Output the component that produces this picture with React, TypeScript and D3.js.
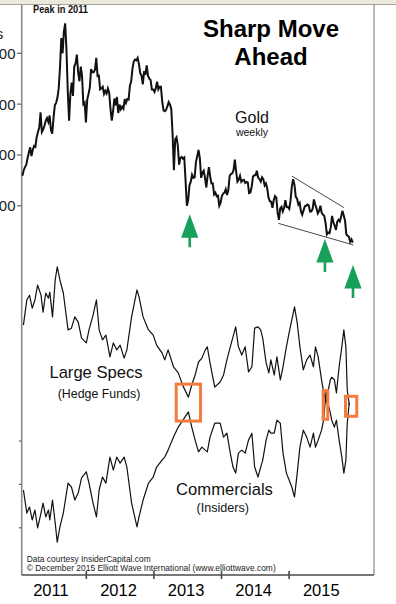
import React from "react";
import * as d3 from "d3";

// Gold, weekly closes (USD/oz), first week ending 2011-01-21
const gold2011 = [1318, 1340, 1352, 1362, 1388, 1410, 1430, 1396, 1420, 1436, 1432, 1470, 1490, 1508, 1568, 1490, 1500, 1515, 1535, 1545, 1530, 1555, 1498, 1484, 1545, 1595, 1605, 1625, 1662, 1745, 1860, 1800, 1885, 1918, 1812, 1650, 1535, 1640, 1685, 1632, 1748, 1760, 1795, 1725, 1690, 1748, 1712, 1600, 1606, 1528];
const gold2012 = [1618, 1640, 1665, 1738, 1725, 1725, 1735, 1782, 1710, 1712, 1658, 1662, 1668, 1640, 1652, 1642, 1662, 1645, 1580, 1535, 1572, 1622, 1595, 1628, 1565, 1598, 1580, 1590, 1582, 1620, 1605, 1620, 1618, 1672, 1690, 1740, 1768, 1775, 1772, 1782, 1758, 1722, 1712, 1678, 1730, 1715, 1752, 1712, 1700, 1695, 1658, 1658];
const gold2013 = [1648, 1662, 1688, 1658, 1668, 1668, 1610, 1575, 1572, 1578, 1592, 1608, 1598, 1580, 1480, 1340, 1462, 1470, 1438, 1362, 1388, 1392, 1385, 1390, 1298, 1200, 1222, 1280, 1295, 1322, 1310, 1312, 1372, 1395, 1420, 1388, 1310, 1330, 1338, 1310, 1272, 1318, 1352, 1315, 1288, 1288, 1245, 1252, 1238, 1240, 1200, 1212];
const gold2014 = [1238, 1248, 1252, 1265, 1242, 1262, 1318, 1325, 1328, 1340, 1382, 1335, 1295, 1302, 1318, 1294, 1300, 1302, 1290, 1294, 1292, 1250, 1252, 1275, 1315, 1320, 1320, 1338, 1310, 1305, 1295, 1312, 1305, 1280, 1288, 1268, 1232, 1218, 1216, 1192, 1222, 1238, 1232, 1172, 1145, 1190, 1196, 1178, 1192, 1222, 1195, 1195];
const gold2015 = [1188, 1222, 1278, 1305, 1282, 1235, 1228, 1205, 1212, 1178, 1165, 1182, 1198, 1200, 1205, 1202, 1178, 1178, 1188, 1225, 1205, 1190, 1170, 1180, 1200, 1172, 1165, 1160, 1132, 1088, 1095, 1092, 1115, 1160, 1135, 1122, 1105, 1138, 1145, 1138, 1158, 1180, 1162, 1142, 1088, 1082, 1078, 1058, 1068, 1055];
const goldStart = new Date(2011, 0, 21);

// COT net positions (thousand contracts), sampled in decimal years
const cotYears = [
  2011.07, 2011.12, 2011.16, 2011.2, 2011.24, 2011.28, 2011.33, 2011.36, 2011.4, 2011.44,
  2011.46, 2011.5, 2011.54, 2011.57, 2011.61, 2011.66, 2011.73, 2011.78, 2011.83, 2011.88,
  2011.93, 2012.0, 2012.04, 2012.1, 2012.15, 2012.19, 2012.24, 2012.29, 2012.35, 2012.4,
  2012.45, 2012.5, 2012.56, 2012.6, 2012.67, 2012.75, 2012.78, 2012.84, 2012.92, 2012.99,
  2013.04, 2013.12, 2013.16, 2013.21, 2013.29, 2013.36, 2013.43, 2013.51, 2013.56, 2013.61,
  2013.66, 2013.71, 2013.76, 2013.79, 2013.83, 2013.9, 2013.98, 2014.03, 2014.08, 2014.13,
  2014.17, 2014.21, 2014.25, 2014.3, 2014.35, 2014.4, 2014.45, 2014.49, 2014.54, 2014.58,
  2014.61, 2014.66, 2014.7, 2014.73, 2014.78, 2014.82, 2014.87, 2014.91, 2014.96, 2015.0,
  2015.04, 2015.08, 2015.12, 2015.16, 2015.21, 2015.26, 2015.31, 2015.36, 2015.39, 2015.43,
  2015.48, 2015.51, 2015.55, 2015.58, 2015.61, 2015.63, 2015.67, 2015.7, 2015.74, 2015.78,
  2015.81, 2015.84, 2015.86, 2015.89,
];
const largeSpecs = [
  167, 225, 236, 206, 225, 259, 236, 197, 241, 229,
  243, 186, 271, 301, 271, 241, 156, 160, 186, 174,
  137, 126, 156, 190, 225, 156, 133, 144, 94, 126,
  110, 121, 91, 110, 186, 248, 232, 186, 156, 144,
  121, 103, 87, 110, 71, 57, 27, 1, 29, 52,
  82, 91, 110, 117, 80, 24, 36, 52, 87, 117,
  140, 163, 117, 98, 117, 59, 71, 160, 163, 156,
  137, 80, 57, 87, 52, 94, 41, 71, 117, 149,
  179, 209, 172, 117, 64, 87, 98, 71, 117, 94,
  41, 13, -12, 18, 41, 47, 41, 11, 71, 117,
  156, 117, 18, -17,
];
const commercials = [
  -213, -266, -252, -282, -259, -300, -266, -243, -275, -259,
  -282, -236, -289, -333, -298, -266, -197, -206, -236, -220,
  -185, -171, -197, -243, -275, -213, -183, -197, -137, -167,
  -137, -151, -137, -160, -243, -298, -275, -236, -197, -183,
  -160, -144, -137, -121, -91, -68, -52, -33, -68, -98,
  -125, -114, -121, -125, -91, -59, -59, -91, -82, -128,
  -160, -174, -128, -121, -128, -98, -82, -160, -183, -160,
  -144, -98, -75, -82, -82, -52, -59, -128, -174, -190,
  -206, -229, -174, -114, -75, -91, -114, -82, -114, -98,
  -75, -52, 18, -17, -35, -52, -68, -52, -98, -137,
  -174, -144, -59, -12,
];

const goldTicks = [1200, 1400, 1600, 1800];
const cotTicks = [-100, -200, -300];
const yearTicks = [2012, 2013, 2014, 2015];
const yearLabels = [2011, 2012, 2013, 2014, 2015];

// annotations
const arrowTips = [
  { year: 2013.53, price: 1167 },
  { year: 2015.53, price: 1069 },
  { year: 2015.945, price: 967 },
];
const wedgeUpper: [number, number][] = [[2015.04, 1317], [2015.81, 1193]];
const wedgeLower: [number, number][] = [[2014.84, 1131], [2015.95, 1046]];
const boxes = [
  { from: 2013.33, to: 2013.69, hi: 31, lo: -54 },
  { from: 2015.504, to: 2015.572, hi: 16, lo: -50 },
  { from: 2015.834, to: 2016.001, hi: 3, lo: -43 },
];

const W = 396;
const H = 604;
const FONT = "'Liberation Sans', Arial, Helvetica, sans-serif";
const LEFT = 21.7;
const RIGHT = 374;
const BOTTOM = 575;

function decYear(d: Date) {
  const y = d.getFullYear();
  const a = new Date(y, 0, 1).getTime();
  const b = new Date(y + 1, 0, 1).getTime();
  return y + (d.getTime() - a) / (b - a);
}

export default function App() {
  const x = d3.scaleLinear().domain([2011, 2016]).range([18.7, 356.7]);
  const yGold = d3.scaleLinear().domain([1200, 1800]).range([205.8, 53.3]);
  const yCot = d3.scaleLinear().domain([0, -300]).range([397.6, 527.8]);

  const goldValues = [...gold2011, ...gold2012, ...gold2013, ...gold2014, ...gold2015];
  const gold = goldValues.map((v, i) => ({ t: decYear(d3.timeDay.offset(goldStart, i * 7)), v }));

  const goldLine = d3
    .line<{ t: number; v: number }>()
    .x((d) => x(d.t))
    .y((d) => yGold(d.v));

  const cotLine = d3
    .line<number>()
    .x((_, i) => x(cotYears[i]))
    .y((d) => yCot(d));

  const wedge = d3
    .line<[number, number]>()
    .x((d) => x(d[0]))
    .y((d) => yGold(d[1]));

  return (
    <svg
      width={W}
      height={H}
      style={{ position: "absolute", left: 0, top: 0, background: "#fff" }}
      fontFamily={FONT}
    >
      <rect x={0} y={0} width={W} height={H} fill="#ffffff" />
      {/* top strip */}
      <rect x={0} y={0} width={W} height={4} fill="#ebe8dc" />
      <line x1={0} x2={W} y1={4.5} y2={4.5} stroke="#a6a498" strokeWidth={1} />

      {/* frame */}
      <line x1={LEFT} x2={LEFT} y1={4.5} y2={BOTTOM} stroke="#8a8a8a" strokeWidth={1.6} />
      <line x1={RIGHT} x2={RIGHT} y1={4.5} y2={BOTTOM} stroke="#8a8a8a" strokeWidth={1.2} />

      {/* gold axis ticks (labels cropped at left edge) */}
      {goldTicks.map((t) => (
        <g key={t}>
          <line x1={17} x2={LEFT} y1={yGold(t)} y2={yGold(t)} stroke="#666" strokeWidth={1.2} />
          <text x={15.5} y={yGold(t) + 5.4} fontSize={15} textAnchor="end" fill="#1a1a1a">
            {t}
          </text>
        </g>
      ))}
      <text x={3.2} y={39} fontSize={15} textAnchor="end" fill="#1a1a1a">
        Dollars
      </text>
      {cotTicks.map((t) => (
        <line key={t} x1={19} x2={LEFT} y1={yCot(t)} y2={yCot(t)} stroke="#666" strokeWidth={1.2} />
      ))}

      {/* gold */}
      <path d={goldLine(gold) ?? ""} fill="none" stroke="#111" strokeWidth={2} strokeLinejoin="miter" />
      <path d={wedge(wedgeUpper) ?? ""} fill="none" stroke="#333" strokeWidth={0.9} />
      <path d={wedge(wedgeLower) ?? ""} fill="none" stroke="#333" strokeWidth={0.9} />

      {/* arrows */}
      {arrowTips.map((a, i) => {
        const tx = x(a.year);
        const ty = yGold(a.price);
        const p = d3.path();
        p.moveTo(tx, ty);
        p.lineTo(tx + 8.6, ty + 23.5);
        p.lineTo(tx + 1.3, ty + 23.5);
        p.lineTo(tx + 1.3, ty + 33);
        p.lineTo(tx - 1.3, ty + 33);
        p.lineTo(tx - 1.3, ty + 23.5);
        p.lineTo(tx - 8.6, ty + 23.5);
        p.closePath();
        return <path key={i} d={p.toString()} fill="#17a05a" />;
      })}

      {/* COT */}
      <path d={cotLine(largeSpecs) ?? ""} fill="none" stroke="#111" strokeWidth={1.2} strokeLinejoin="round" />
      <path d={cotLine(commercials) ?? ""} fill="none" stroke="#111" strokeWidth={1.2} strokeLinejoin="round" />
      {boxes.map((b, i) => (
        <rect
          key={i}
          x={x(b.from)}
          y={yCot(b.hi)}
          width={x(b.to) - x(b.from)}
          height={yCot(b.lo) - yCot(b.hi)}
          fill="none"
          stroke="#f47b3b"
          strokeWidth={3}
        />
      ))}

      {/* labels */}
      <text x={33} y={13} fontSize={10} fontWeight="bold" textLength={55} lengthAdjust="spacingAndGlyphs" fill="#111">
        Peak in 2011
      </text>
      <text x={271} y={37.3} fontSize={24} fontWeight="bold" textAnchor="middle" fill="#000">
        Sharp Move
      </text>
      <text x={271} y={65} fontSize={24} fontWeight="bold" textAnchor="middle" fill="#000">
        Ahead
      </text>
      <text x={252} y={123} fontSize={16} textAnchor="middle" fill="#111">
        Gold
      </text>
      <text x={252} y={135.5} fontSize={10.5} textAnchor="middle" fill="#111">
        weekly
      </text>
      <text x={96} y={377.7} fontSize={16.6} textAnchor="middle" fill="#111">
        Large Specs
      </text>
      <text x={99} y={398.3} fontSize={12.4} textAnchor="middle" fill="#111">
        (Hedge Funds)
      </text>
      <text x={224.5} y={495} fontSize={16.6} textAnchor="middle" fill="#111">
        Commercials
      </text>
      <text x={222.7} y={511.7} fontSize={12.6} textAnchor="middle" fill="#111">
        (Insiders)
      </text>
      <text x={26.7} y={561.7} fontSize={8.6} textLength={124} lengthAdjust="spacingAndGlyphs" fill="#222">
        Data courtesy InsiderCapital.com
      </text>
      <text x={26.7} y={570.7} fontSize={8.6} textLength={249} lengthAdjust="spacingAndGlyphs" fill="#222">
        © December 2015 Elliott Wave International (www.elliottwave.com)
      </text>

      {/* time axis */}
      <line x1={LEFT} x2={RIGHT} y1={BOTTOM} y2={BOTTOM} stroke="#4a4a4a" strokeWidth={1.6} />
      {yearTicks.map((t) => (
        <line key={t} x1={x(t)} x2={x(t)} y1={571} y2={579} stroke="#4a4a4a" strokeWidth={1.6} />
      ))}
      {yearLabels.map((t) => (
        <text key={t} x={x(t + 0.5) - 1.6} y={596} fontSize={16.5} textAnchor="middle" fill="#000">
          {t}
        </text>
      ))}
    </svg>
  );
}
